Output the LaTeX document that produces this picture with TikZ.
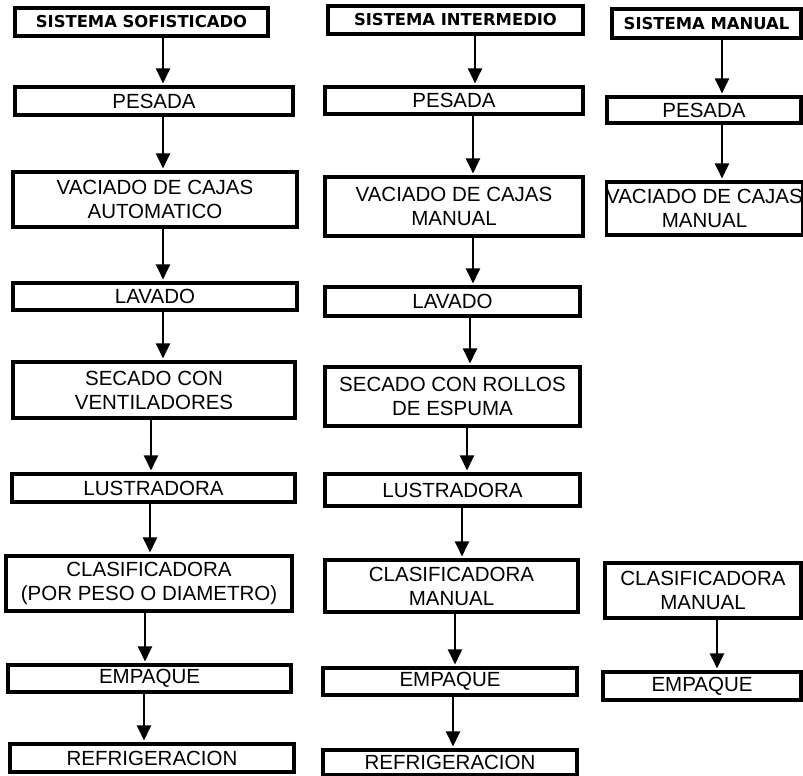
\documentclass[tikz,border=0pt]{standalone}
\usepackage{fontspec}
\setmainfont{Liberation Sans}
\newfontfamily\hdrfont{DejaVu Sans}
\usetikzlibrary{arrows.meta}
\newcommand\mkbox[7]{\node[#1, minimum width={(#5-#3)*1pt}, minimum height={(#6-#4)*1pt}] (#2) at ({(#3+#5)/2},{(#4+#6)/2}) {#7};}
\newcommand\mkarr[3]{\draw[flowarrow] (#1.south -| #3,0) -- (#2.north -| #3,0);}
\begin{document}
\begin{tikzpicture}[x=1pt,y=-1pt,
  stepbox/.style={draw=black, line width=3.1pt, fill=white, inner sep=0pt, align=center,
    font=\fontsize{20.5}{24}\selectfont},
  headbox/.style={draw=black, line width=3.6pt, fill=white, inner sep=0pt, align=center,
    font=\hdrfont\bfseries\fontsize{16.4}{18}\selectfont},
  flowarrow/.style={line width=2.2pt, -{Triangle[width=14pt,length=15pt]}, shorten >=2pt}]
\useasboundingbox (0,0) rectangle (803,776);
% column 1
\mkbox{headbox}{h1}{15}{8}{268}{36}{SISTEMA SOFISTICADO}
\mkbox{stepbox}{p1}{15}{87}{293}{115}{PESADA}
\mkbox{stepbox}{v1}{13}{172}{297}{227}{VACIADO DE CAJAS\\AUTOMATICO}
\mkbox{stepbox}{l1}{13}{283}{297}{310}{LAVADO}
\mkbox{stepbox}{s1}{13}{362}{295}{418}{SECADO CON\\VENTILADORES}
\mkbox{stepbox}{u1}{12}{474}{295}{502}{LUSTRADORA}
\mkbox{stepbox}{c1}{6}{556}{292}{611}{CLASIFICADORA\\(POR PESO O DIAMETRO)}
\mkbox{stepbox}{e1}{8}{665}{291}{692}{EMPAQUE}
\mkbox{stepbox}{r1}{10}{744}{294}{772}{REFRIGERACION}
% column 2
\mkbox{headbox}{h2}{328}{6}{583}{34}{SISTEMA INTERMEDIO}
\mkbox{stepbox}{p2}{325}{87}{583}{114}{PESADA}
\mkbox{stepbox}{v2}{325}{177}{583}{236}{VACIADO DE CAJAS\\MANUAL}
\mkbox{stepbox}{l2}{325}{287}{580}{316}{LAVADO}
\mkbox{stepbox}{s2}{325}{367}{580}{426}{SECADO CON ROLLOS\\DE ESPUMA}
\mkbox{stepbox}{u2}{325}{474}{580}{506}{LUSTRADORA}
\mkbox{stepbox}{c2}{325}{560}{578}{612}{CLASIFICADORA\\MANUAL}
\mkbox{stepbox}{e2}{323}{668}{577}{695}{EMPAQUE}
\mkbox{stepbox}{r2}{323}{750}{577}{775}{REFRIGERACION}
% column 3
\mkbox{headbox}{h3}{612}{9}{801}{38}{SISTEMA MANUAL}
\mkbox{stepbox}{p3}{607}{97}{801}{123}{PESADA}
\mkbox{stepbox}{v3}{608}{182}{801}{235}{VACIADO DE CAJAS\\MANUAL}
\mkbox{stepbox}{c3}{605}{563}{801}{618}{CLASIFICADORA\\MANUAL}
\mkbox{stepbox}{e3}{603}{672}{801}{700}{EMPAQUE}
% arrows column 1
\mkarr{h1}{p1}{163}
\mkarr{p1}{v1}{163}
\mkarr{v1}{l1}{163}
\mkarr{l1}{s1}{163}
\mkarr{s1}{u1}{151}
\mkarr{u1}{c1}{150}
\mkarr{c1}{e1}{145}
\mkarr{e1}{r1}{144}
% arrows column 2
\mkarr{h2}{p2}{475}
\mkarr{p2}{v2}{473}
\mkarr{v2}{l2}{473}
\mkarr{l2}{s2}{470}
\mkarr{s2}{u2}{467}
\mkarr{u2}{c2}{462}
\mkarr{c2}{e2}{455}
\mkarr{e2}{r2}{453}
% arrows column 3
\mkarr{h3}{p3}{722}
\mkarr{p3}{v3}{722}
\mkarr{c3}{e3}{717}
\end{tikzpicture}
\end{document}
